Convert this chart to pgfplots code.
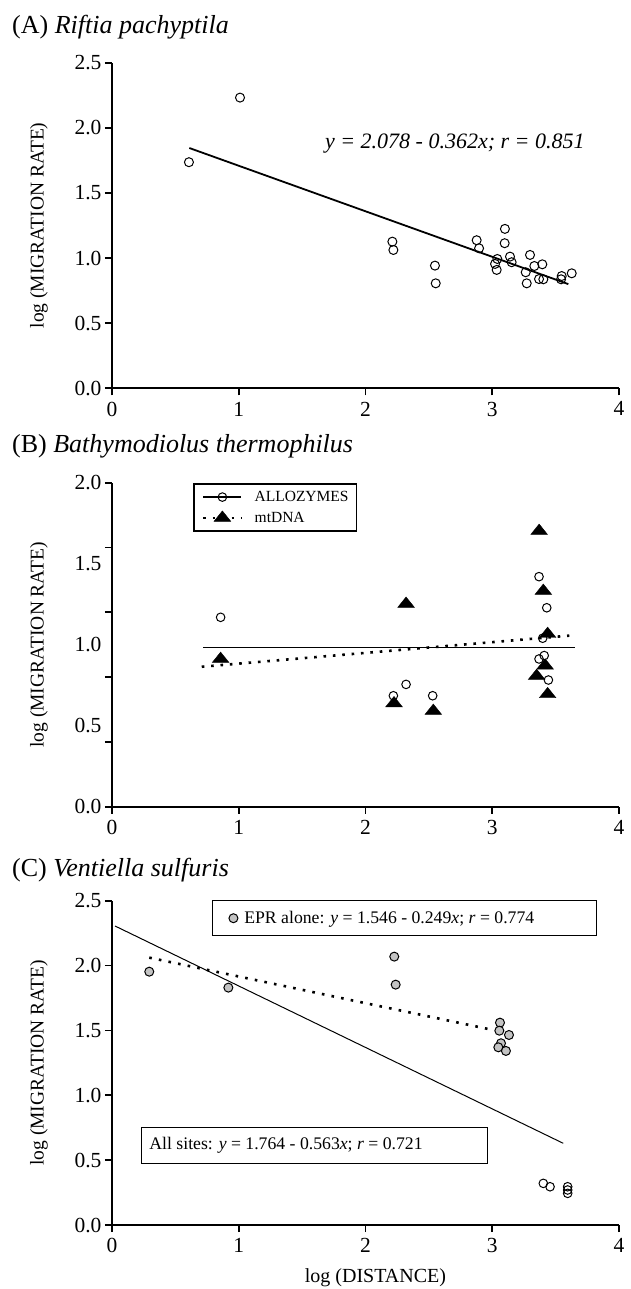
\documentclass[border=0pt]{standalone}
\usepackage{fontspec}
\setmainfont{Liberation Serif}
\usepackage{pgfplots}
\pgfplotsset{compat=1.18}
\definecolor{ptgray}{RGB}{195,195,195}

\pgfplotsset{
  base/.style={
    scale only axis, width=507pt,
    xmin=0, xmax=4, xtick={0,1,2,3,4},
    axis lines=left, axis line style={-, line width=1.7pt},
    tick style={line width=1.7pt, black}, major tick length=7pt, tick align=outside,
    tick label style={font=\fontsize{21.5}{24}\selectfont},
    xticklabel style={yshift=-3pt},
    /pgf/number format/assume math mode=true,
    yticklabel style={/pgf/number format/.cd, fixed, fixed zerofill, precision=1},
    ylabel={log (MIGRATION RATE)},
    ylabel style={font=\fontsize{19.5}{22}\selectfont, inner sep=0pt, at={(axis description cs:-0.1262,0.5)}, anchor=south, rotate=0},
    clip=false,
  },
  lineimg/.style={legend image code/.code={\draw[mark repeat=2,mark phase=2,##1] plot coordinates {(0pt,0pt) (19pt,0pt) (38pt,0pt)};}},
}

\begin{document}
\begin{tikzpicture}
% ---------------- (A)
\begin{axis}[base, at={(112pt,-388.3pt)}, anchor=south west, height=325.6pt,
  ymin=0, ymax=2.5, ytick={0,0.5,1,1.5,2,2.5}]
\addplot[only marks, mark=o, mark size=4.5pt, mark options={line width=1pt}] coordinates {
(0.607,1.736) (1.010,2.232) (2.212,1.126) (2.220,1.062) (2.548,0.942) (2.554,0.806)
(2.877,1.137) (2.896,1.075) (3.040,0.993) (3.022,0.955) (3.035,0.909) (3.100,1.224)
(3.098,1.114) (3.140,1.011) (3.153,0.968) (3.298,1.024) (3.264,0.891) (3.272,0.806)
(3.332,0.939) (3.395,0.952) (3.369,0.839) (3.403,0.837) (3.548,0.862) (3.543,0.837)
(3.627,0.883)};
\addplot[line width=1.8pt, no marks] coordinates {(0.61,1.845) (3.60,0.80)};
\node[anchor=west, inner sep=0pt, font=\fontsize{22}{26}\selectfont\itshape] at (axis cs:1.68,1.88) {y = 2.078 - 0.362x; r = 0.851};
\end{axis}

% ---------------- (B)
\begin{axis}[base, at={(112pt,-806.7pt)}, anchor=south west, height=324pt,
  ymin=0, ymax=2, ytick={0,0.4,0.8,1.2,1.6,2.0}, yticklabels={,,,,,},
  extra y ticks={0,0.5,1,1.5,2}, extra y tick labels={0.0,0.5,1.0,1.5,2.0},
  extra y tick style={tick style={draw=none}},
  lineimg,
  legend style={at={(axis cs:0.641,1.996)}, anchor=north west, draw=black, line width=1.7pt,
    font=\fontsize{15.5}{18}\selectfont, inner xsep=8pt, inner ysep=7pt,
    nodes={inner sep=0pt}, row sep=8pt,
    /tikz/every odd column/.append style={column sep=12pt}},
  legend cell align=left]
\addplot[forget plot, only marks, mark=o, mark size=4.3pt, mark options={line width=1pt}] coordinates {
(0.857,1.169) (2.220,0.685) (2.320,0.755) (2.530,0.685) (3.369,1.420) (3.430,1.228)
(3.398,1.040) (3.410,0.933) (3.369,0.912) (3.443,0.782)};
\addplot[forget plot, only marks, mark=triangle*, mark size=9.6pt, mark options={yscale=0.72, fill=black}] coordinates {
(0.857,0.912) (2.320,1.252) (2.225,0.638) (2.535,0.591) (3.370,1.702) (3.403,1.332)
(3.437,1.066) (3.417,0.871) (3.350,0.807) (3.437,0.694)};
\addplot[forget plot, line width=1.1pt, no marks] coordinates {(0.72,0.984) (3.653,0.984)};
\addplot[forget plot, line width=2.6pt, dash pattern=on 2.6pt off 6.8pt, no marks] coordinates {(0.708,0.864) (3.608,1.056)};
\addlegendimage{line width=1.6pt, mark=o, mark size=4.3pt, mark options={line width=1pt, fill=white}}
\addlegendentry{ALLOZYMES}
\addlegendimage{line width=2.6pt, dash pattern=on 2.6pt off 6.8pt, mark=triangle*, mark size=9.6pt, mark options={solid, yscale=0.72, fill=black, line width=0.5pt}}
\addlegendentry{mtDNA}
\end{axis}

% ---------------- (C)
\begin{axis}[base, at={(112pt,-1225pt)}, anchor=south west, height=324.3pt,
  ymin=0, ymax=2.5, ytick={0,0.5,1,1.5,2,2.5},
  xlabel={log (DISTANCE)},
  xlabel style={font=\fontsize{20}{24}\selectfont, inner sep=0pt, at={(axis description cs:0.5,0)}, anchor=base, yshift=-57pt, xshift=10pt},
  legend image code/.code={\draw[#1] plot coordinates {(0pt,0pt)};},
  legend style={at={(axis cs:0.921,2.365)}, anchor=west, draw=none, fill=none,
    font=\fontsize{17.7}{20}\selectfont, inner sep=0pt, nodes={inner sep=0pt},
    /tikz/every odd column/.append style={column sep=6.4pt}}]
\addplot[forget plot, only marks, mark=*, mark size=4.5pt, mark options={line width=1pt, fill=ptgray}] coordinates {
(0.294,1.953) (0.918,1.830) (2.227,2.069) (2.238,1.853) (3.061,1.560) (3.056,1.498)
(3.132,1.465) (3.069,1.401) (3.048,1.370) (3.108,1.342)};
\addplot[forget plot, only marks, mark=o, mark size=4.3pt, mark options={line width=1pt}] coordinates {
(3.403,0.321) (3.456,0.295) (3.595,0.295) (3.595,0.270) (3.595,0.244)};
\addplot[forget plot, line width=1pt, no marks] coordinates {(0.024,2.305) (3.56,0.63)};
\addplot[forget plot, line width=2.6pt, dash pattern=on 2.6pt off 7.2pt, no marks] coordinates {(0.294,2.061) (3.008,1.503)};
\addlegendimage{only marks, mark=*, mark size=4.5pt, mark options={line width=1pt, fill=ptgray}}
\addlegendentry{EPR alone: \textit{y} = 1.546 - 0.249\textit{x}; \textit{r} = 0.774}
\draw[line width=1pt] (axis cs:0.79,2.5) rectangle (axis cs:3.82,2.228);
\draw[line width=1pt] (axis cs:0.229,0.75) rectangle (axis cs:2.96,0.478);
\node[anchor=west, inner sep=0pt, font=\fontsize{17.7}{20}\selectfont] at (axis cs:0.294,0.613) {All sites: \textit{y} = 1.764 - 0.563\textit{x}; \textit{r} = 0.721};
\end{axis}

\node[anchor=base west, inner sep=0pt, font=\fontsize{26}{30}\selectfont] at (12pt,-33.3pt) {(A) \textit{Riftia pachyptila}};
\node[anchor=base west, inner sep=0pt, font=\fontsize{26}{30}\selectfont] at (12pt,-452.7pt) {(B) \textit{Bathymodiolus thermophilus}};
\node[anchor=base west, inner sep=0pt, font=\fontsize{26}{30}\selectfont] at (12pt,-876pt) {(C) \textit{Ventiella sulfuris}};

\pgfresetboundingbox
\path[use as bounding box] (0pt,0pt) rectangle (631pt,-1289pt);
\end{tikzpicture}
\end{document}
